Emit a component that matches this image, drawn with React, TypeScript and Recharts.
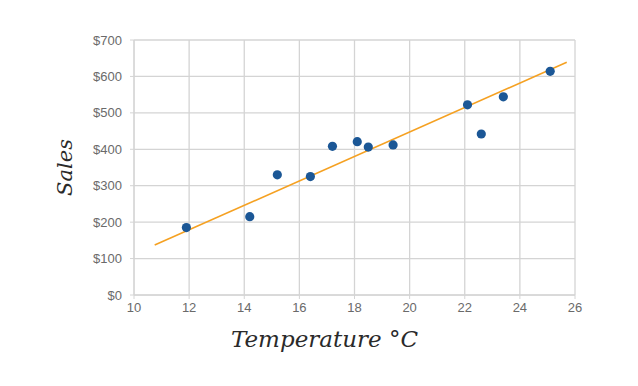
import React from "react";
import {
  ScatterChart,
  Scatter,
  XAxis,
  YAxis,
  CartesianGrid,
  ReferenceLine,
  Label,
} from "recharts";

// temperature (°C) vs ice-cream sales ($)
const temperatures = [11.9, 14.2, 15.2, 16.4, 17.2, 18.1, 18.5, 19.4, 22.1, 22.6, 23.4, 25.1];
const sales = [185, 215, 330, 325, 408, 421, 406, 412, 522, 442, 544, 614];

// trend line ends
const trendStart = { x: 10.75, y: 137 };
const trendEnd = { x: 25.7, y: 639 };

const xTicks = [10, 12, 14, 16, 18, 20, 22, 24, 26];
const yTicks = [0, 100, 200, 300, 400, 500, 600, 700];

const points = temperatures.map((t, i) => ({ temp: t, sales: sales[i] }));

const gridColor = "#d4d4d4";
const tick = { fontSize: 13, fill: "#6a6a6a", fontFamily: "Liberation Sans, Arial, sans-serif" };
const titleFont = "DejaVu Serif, serif";

const Dot = (props: any) => (
  <circle cx={props.cx} cy={props.cy} r={4.6} fill="#1b5796" />
);

export default function App() {
  return (
    <div style={{ position: "absolute", left: 0, top: 0, background: "#fff" }}>
      <ScatterChart
        width={638}
        height={386}
        margin={{ top: 40, right: 63, left: 40, bottom: 31 }}
      >
        <CartesianGrid stroke={gridColor} strokeWidth={1.3} />
        <XAxis
          type="number"
          dataKey="temp"
          domain={[10, 26]}
          ticks={xTicks}
          interval={0}
          tick={tick}
          tickSize={4}
          tickMargin={4}
          stroke={gridColor}
          height={60}
        >
          <Label
            content={(p: any) => {
              const vb = p.viewBox;
              return (
                <text
                  x={vb.x + vb.width / 2 - 30}
                  y={vb.y + 52}
                  textAnchor="middle"
                  fontFamily={titleFont}
                  fontStyle="italic"
                  fontSize={23}
                  fill="#2a2a2a"
                >
                  Temperature °C
                </text>
              );
            }}
          />
        </XAxis>
        <YAxis
          type="number"
          dataKey="sales"
          domain={[0, 700]}
          ticks={yTicks}
          interval={0}
          tick={tick}
          tickSize={4}
          tickMargin={8}
          stroke={gridColor}
          width={94}
          tickFormatter={(v: number) => `$${v}`}
        >
          <Label
            content={(p: any) => {
              const vb = p.viewBox;
              const cx = vb.x + 32;
              const cy = vb.y + vb.height / 2;
              return (
                <text
                  x={cx}
                  y={cy}
                  transform={`rotate(-90 ${cx} ${cy})`}
                  textAnchor="middle"
                  fontFamily={titleFont}
                  fontStyle="italic"
                  fontSize={21}
                  fill="#2a2a2a"
                >
                  Sales
                </text>
              );
            }}
          />
        </YAxis>
        <ReferenceLine
          segment={[trendStart, trendEnd]}
          stroke="#f5a122"
          strokeWidth={1.6}
          ifOverflow="visible"
        />
        <Scatter data={points} shape={Dot} isAnimationActive={false} />
      </ScatterChart>
    </div>
  );
}
